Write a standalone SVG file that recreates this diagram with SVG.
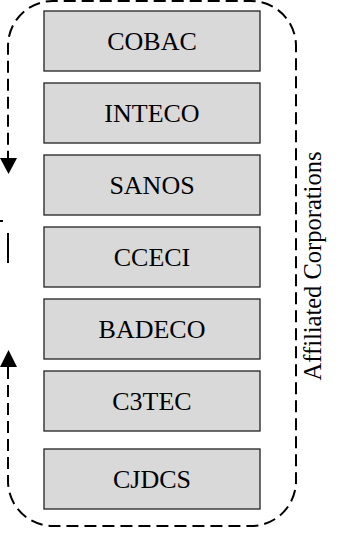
<svg xmlns="http://www.w3.org/2000/svg" width="339" height="540" viewBox="0 0 339 540">
<style>
.box{fill:#d9d9d9;stroke:#222;stroke-width:1.3}
.lbl{font-family:"Liberation Serif","Times New Roman",serif;font-size:26px;fill:#000;text-anchor:middle}
.side{font-family:"Liberation Serif","Times New Roman",serif;font-size:24.5px;fill:#000;text-anchor:middle}
.dash{fill:none;stroke:#000;stroke-width:2;stroke-dasharray:12 6}
.solid{fill:none;stroke:#000;stroke-width:2}
</style>
<rect width="339" height="540" fill="#fff"/>
<g id="connectors">
<path class="dash" d="M 8 367 V 481 A 45 45 0 0 0 53 526 H 251 A 45 45 0 0 0 296 481 V 46 A 45 45 0 0 0 251 1 H 53 A 45 45 0 0 0 8 46 V 158"/>
<polygon points="0,158 17,158 8.5,174" fill="#000"/>
<polygon points="0,367 17,367 8.5,350" fill="#000"/>
<line class="solid" x1="8" y1="233" x2="8" y2="263"/>
<line class="solid" x1="0" y1="221" x2="3" y2="221"/>
</g>
<g id="n1"><rect class="box" x="44" y="11" width="216" height="60"/><text class="lbl" x="152" y="49.5">COBAC</text></g>
<g id="n2"><rect class="box" x="44" y="83" width="216" height="60"/><text class="lbl" x="152" y="121.5">INTECO</text></g>
<g id="n3"><rect class="box" x="44" y="155" width="216" height="60"/><text class="lbl" x="152" y="193.5">SANOS</text></g>
<g id="n4"><rect class="box" x="44" y="227" width="216" height="60"/><text class="lbl" x="152" y="265.5">CCECI</text></g>
<g id="n5"><rect class="box" x="44" y="299" width="216" height="60"/><text class="lbl" x="152" y="337.5">BADECO</text></g>
<g id="n6"><rect class="box" x="44" y="371" width="216" height="60"/><text class="lbl" x="152" y="409.5">C3TEC</text></g>
<g id="n7"><rect class="box" x="44" y="449" width="216" height="60"/><text class="lbl" x="152" y="487.5">CJDCS</text></g>
<g id="group-label"><text class="side" transform="translate(321 266) rotate(-90)" x="0" y="0">Affiliated Corporations</text></g>
</svg>
